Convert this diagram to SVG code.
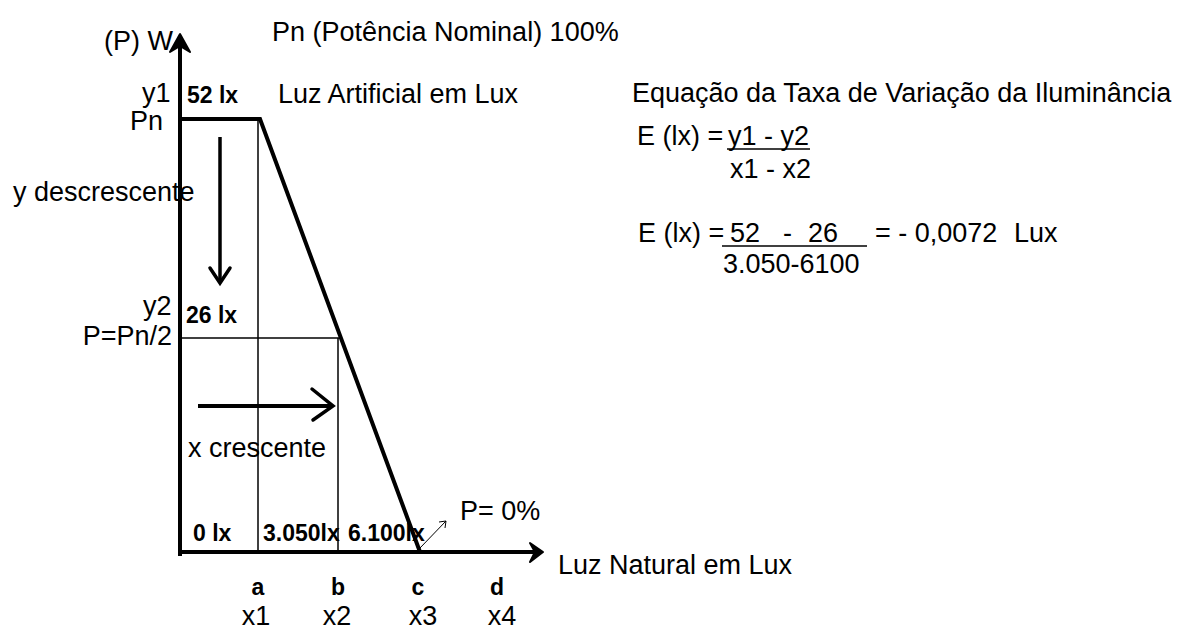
<svg xmlns="http://www.w3.org/2000/svg" width="1197" height="630" viewBox="0 0 1197 630">
<style>
text{font-family:"Liberation Sans",Arial,sans-serif;fill:#000;font-size:27px}
.b{font-weight:bold;font-size:23px}
.c{text-anchor:middle}
.thick{stroke:#000;stroke-width:4;fill:none;stroke-linejoin:miter}
.thin{stroke:#000;stroke-width:1.5;fill:none}
</style>
<rect width="1197" height="630" fill="#fff"/>
<g id="labels">
<text x="104" y="50">(P) W</text>
<text x="272" y="41">Pn (Potência Nominal) 100%</text>
<text x="142" y="102">y1</text>
<text x="130" y="130">Pn</text>
<text class="b" x="187" y="103">52 lx</text>
<text x="278" y="103">Luz Artificial em Lux</text>
<text x="13" y="201">y descrescente</text>
<text x="143" y="315">y2</text>
<text x="172" y="345" text-anchor="end">P=Pn/2</text>
<text class="b" x="186" y="323">26 lx</text>
<text x="188" y="457">x crescente</text>
<text class="b" x="193" y="541">0 lx</text>
<text class="b" x="263" y="541">3.050lx</text>
<text class="b" x="348" y="541">6.100lx</text>
<text x="460" y="520">P= 0%</text>
<text x="558" y="574">Luz Natural em Lux</text>
<text class="b c" x="258" y="595">a</text>
<text class="b c" x="338" y="595">b</text>
<text class="b c" x="418" y="595">c</text>
<text class="b c" x="497" y="595">d</text>
<text class="c" x="256" y="625">x1</text>
<text class="c" x="337" y="625">x2</text>
<text class="c" x="423" y="625">x3</text>
<text class="c" x="502" y="625">x4</text>
</g>
<g id="equation">
<text x="632" y="102">Equação da Taxa de Variação da Iluminância</text>
<text x="637" y="145">E (lx) =</text>
<text x="728" y="145">y1 - y2</text>
<line class="thin" x1="727" y1="149" x2="810" y2="149"/>
<text x="730" y="178">x1 - x2</text>
<text x="638" y="242">E (lx) =</text>
<text x="730" y="242">52</text>
<text x="783" y="242">-</text>
<text x="808" y="242">26</text>
<line class="thin" x1="722" y1="246" x2="867" y2="246"/>
<text x="723" y="273">3.050-6100</text>
<text x="875" y="242">= - 0,0072</text>
<text x="1014" y="242">Lux</text>
</g>
<g id="connectors">
<line class="thin" x1="258" y1="119" x2="258" y2="552"/>
<line class="thin" x1="338" y1="338" x2="338" y2="552"/>
<line class="thin" x1="180" y1="338" x2="341" y2="338"/>
<line class="thick" x1="180" y1="556" x2="180" y2="42"/>
<path d="M180 34 L170 52 L180 46 L190 52 Z" fill="#000" stroke="#000" stroke-width="2" stroke-linejoin="round"/>
<line class="thick" x1="178" y1="552" x2="536" y2="552"/>
<path d="M543 552 L530 543 L535 552 L530 562 Z" fill="#000" stroke="#000" stroke-width="2" stroke-linejoin="round"/>
<polyline class="thick" points="180,119 260,119 420,552"/>
<line stroke="#000" stroke-width="3.5" x1="220" y1="137" x2="220" y2="282"/>
<polyline points="210,268 220,283 230,268" fill="none" stroke="#000" stroke-width="3.5" stroke-linecap="round"/>
<line stroke="#000" stroke-width="4" x1="198" y1="406" x2="332" y2="406"/>
<polyline points="312,389 333,406 313,420" fill="none" stroke="#000" stroke-width="3.5" stroke-linecap="round"/>
<line stroke="#000" stroke-width="1" x1="420" y1="548" x2="446" y2="521"/>
<polyline points="439,522 446,521 445,528" fill="none" stroke="#000" stroke-width="1"/>
</g>
</svg>
